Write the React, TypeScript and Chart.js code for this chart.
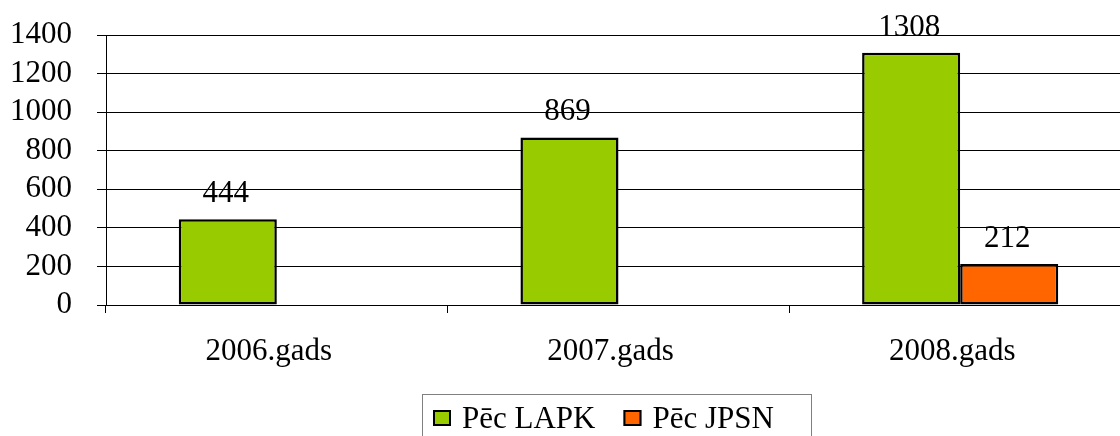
import React, { useEffect, useRef } from "react";
import { Chart, registerables } from "chart.js";

Chart.register(...registerables);

const categories = ["2006.gads", "2007.gads", "2008.gads"];
const seriesNames = ["Pēc LAPK", "Pēc JPSN"];
const lapkValues = [444, 869, 1308];
const jpsnValues: (number | null)[] = [null, null, 212];
const seriesColors = ["#99CC00", "#FF6600"];
const yMin = 0;
const yMax = 1400;
const yStep = 200;

const FONT_FAMILY = '"Liberation Serif", "Times New Roman", serif';
const FONT_SIZE = 31;

const valueLabels = {
  id: "valueLabels",
  afterDatasetsDraw(chart: any) {
    const ctx = chart.ctx;
    ctx.save();
    ctx.font = `${FONT_SIZE}px ${FONT_FAMILY}`;
    ctx.fillStyle = "#000";
    ctx.textAlign = "center";
    ctx.textBaseline = "alphabetic";
    chart.data.datasets.forEach((ds: any, i: number) => {
      const meta = chart.getDatasetMeta(i);
      meta.data.forEach((el: any, j: number) => {
        const v = ds.data[j];
        if (v == null) return;
        ctx.fillText(String(v), el.x - 2, el.y - 17);
      });
    });
    ctx.restore();
  },
};

const boxedLegend = {
  id: "boxedLegend",
  afterDraw(chart: any) {
    const ctx = chart.ctx;
    ctx.save();
    ctx.strokeStyle = "#808080";
    ctx.lineWidth = 1;
    ctx.strokeRect(422.5, 394.5, 389, 80);
    ctx.font = `${FONT_SIZE}px ${FONT_FAMILY}`;
    ctx.textAlign = "left";
    ctx.textBaseline = "alphabetic";
    let x = 433;
    chart.data.datasets.forEach((ds: any) => {
      ctx.fillStyle = ds.backgroundColor;
      ctx.fillRect(x, 410, 18, 16);
      ctx.strokeStyle = "#000";
      ctx.lineWidth = 2;
      ctx.strokeRect(x + 1, 411, 16, 14);
      ctx.fillStyle = "#000";
      const tx = x + 29;
      ctx.fillText(ds.label, tx, 428);
      x = tx + ctx.measureText(ds.label).width + 28;
    });
    ctx.restore();
  },
};

export default function App() {
  const canvasRef = useRef<HTMLCanvasElement | null>(null);

  useEffect(() => {
    if (!canvasRef.current) return;
    const chart = new Chart(canvasRef.current, {
      type: "bar",
      data: {
        labels: categories,
        datasets: [
          {
            label: seriesNames[0],
            data: lapkValues,
            backgroundColor: seriesColors[0],
            borderColor: "#000",
            borderWidth: 2.5,
            borderSkipped: false,
          },
          {
            label: seriesNames[1],
            data: jpsnValues,
            backgroundColor: seriesColors[1],
            borderColor: "#000",
            borderWidth: 2.5,
            borderSkipped: false,
          },
        ],
      },
      options: {
        responsive: false,
        animation: false,
        devicePixelRatio: 1,
        categoryPercentage: 0.574,
        barPercentage: 1,
        layout: { padding: { top: 35, left: 0, right: 0, bottom: 0 } },
        plugins: {
          legend: { display: false },
          tooltip: { enabled: false },
        },
        scales: {
          x: {
            grid: {
              display: true,
              drawOnChartArea: false,
              drawTicks: true,
              tickLength: 8,
              color: "#000",
              offset: true,
            },
            border: { display: true, color: "#000", width: 1 },
            ticks: {
              color: "#000",
              font: { family: FONT_FAMILY, size: FONT_SIZE },
              padding: 20,
              maxRotation: 0,
              labelOffset: -8,
            },
            afterFit(scale: any) {
              scale.height = 131;
              scale.paddingLeft = 0;
              scale.paddingRight = 0;
            },
          },
          y: {
            min: yMin,
            max: yMax,
            grid: {
              color: "#000",
              lineWidth: 1,
              drawTicks: true,
              tickLength: 9,
            },
            border: { display: true, color: "#000", width: 1 },
            ticks: {
              stepSize: yStep,
              autoSkip: false,
              color: "#000",
              font: { family: FONT_FAMILY, size: FONT_SIZE },
              padding: 25,
              callback: (v: any) => String(v),
            },
            afterFit(scale: any) {
              scale.width = 106;
              scale.paddingTop = 0;
              scale.paddingBottom = 0;
            },
          },
        },
      },
      plugins: [valueLabels, boxedLegend],
    } as any);
    return () => chart.destroy();
  }, []);

  return (
    <div
      style={{
        position: "fixed",
        left: 0,
        top: 0,
        width: 1120,
        height: 436,
        overflow: "hidden",
        background: "#fff",
      }}
    >
      <canvas ref={canvasRef} width={1131} height={436} style={{ display: "block" }} />
    </div>
  );
}
